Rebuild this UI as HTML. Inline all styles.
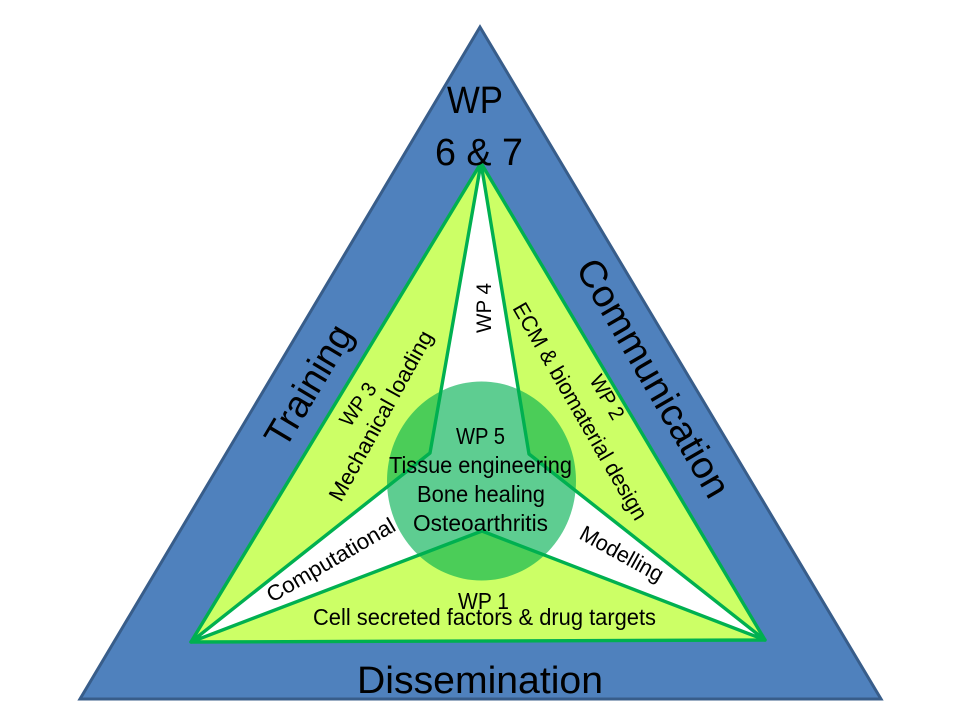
<!DOCTYPE html>
<html><head><meta charset="utf-8"><style>
html,body{margin:0;padding:0;background:#fff}
svg{display:block}
text{font-family:"Liberation Sans",sans-serif;fill:#000}
</style></head><body>
<svg width="960" height="720" viewBox="0 0 960 720" xmlns="http://www.w3.org/2000/svg">
<polygon points="480,27 80,699 881,699" fill="#4f81bd" stroke="#385d8a" stroke-width="3" stroke-linejoin="miter"/>
<polygon points="481,163 191,642 765,640" fill="#ccff66" stroke="#00b050" stroke-width="3.4" stroke-linejoin="round"/>
<polygon points="481,163 430,453 191,642 482,531 765,640 529,454" fill="#fff" stroke="#00b050" stroke-width="3.4" stroke-linejoin="round"/>
<ellipse cx="481.5" cy="481" rx="94.5" ry="99.5" fill="#00b050" fill-opacity="0.63"/>
<g text-anchor="start">
<text x="447" y="113" font-size="38" textLength="56" lengthAdjust="spacingAndGlyphs">WP</text>
<text x="435" y="165" font-size="38" textLength="88" lengthAdjust="spacingAndGlyphs">6 &amp; 7</text>
<text x="357" y="693" font-size="38" textLength="246" lengthAdjust="spacingAndGlyphs">Dissemination</text>
<text x="458" y="609" font-size="23" textLength="51" lengthAdjust="spacingAndGlyphs">WP 1</text>
<text x="313" y="625" font-size="23" textLength="343" lengthAdjust="spacingAndGlyphs">Cell secreted factors &amp; drug targets</text>
<text x="456" y="444" font-size="23" textLength="49" lengthAdjust="spacingAndGlyphs">WP 5</text>
<text x="389" y="473" font-size="23" textLength="183" lengthAdjust="spacingAndGlyphs">Tissue engineering</text>
<text x="417" y="502" font-size="23" textLength="128" lengthAdjust="spacingAndGlyphs">Bone healing</text>
<text x="413" y="531" font-size="23" textLength="135" lengthAdjust="spacingAndGlyphs">Osteoarthritis</text>
<text transform="translate(285,450) rotate(-59.2)" font-size="38" textLength="135" lengthAdjust="spacingAndGlyphs">Training</text>
<text transform="translate(575,268) rotate(60)" font-size="38" textLength="269" lengthAdjust="spacingAndGlyphs">Communication</text>
<text transform="translate(350,428) rotate(-55)" font-size="21" textLength="48" lengthAdjust="spacingAndGlyphs">WP 3</text>
<text transform="translate(341,503) rotate(-61)" font-size="22" textLength="191" lengthAdjust="spacingAndGlyphs">Mechanical loading</text>
<text transform="translate(491,333) rotate(-90)" font-size="21" textLength="50" lengthAdjust="spacingAndGlyphs">WP 4</text>
<text transform="translate(512,308) rotate(60)" font-size="22" textLength="247" lengthAdjust="spacingAndGlyphs">ECM &amp; biomaterial design</text>
<text transform="translate(589,380) rotate(60)" font-size="21" textLength="48" lengthAdjust="spacingAndGlyphs">WP 2</text>
<text transform="translate(272,603) rotate(-30.3)" font-size="22" textLength="145" lengthAdjust="spacingAndGlyphs">Computational</text>
<text transform="translate(578,538) rotate(29)" font-size="22" textLength="92" lengthAdjust="spacingAndGlyphs">Modelling</text>
</g>
</svg>
</body></html>
